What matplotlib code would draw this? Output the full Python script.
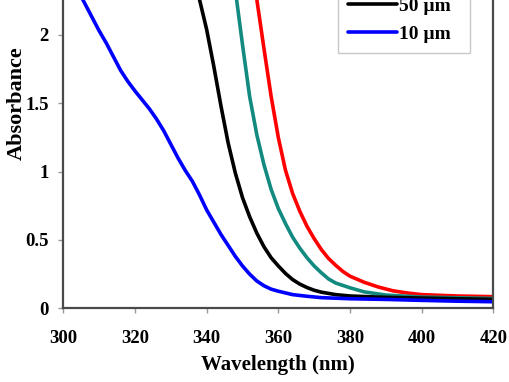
import matplotlib
matplotlib.use("Agg")
import matplotlib.pyplot as plt

plt.rcParams['font.family'] = ['Liberation Serif', 'DejaVu Serif']
plt.rcParams['font.weight'] = 'bold'

wl_red = [352, 354, 356, 358, 360, 362, 364, 366, 368, 370, 372, 374, 376, 378, 380,
          384, 388, 392, 396, 400, 410, 420]
abs_red = [2.60, 2.26, 1.90, 1.55, 1.25, 1.01, 0.84, 0.71, 0.60, 0.51, 0.43, 0.365, 0.315,
           0.27, 0.235, 0.19, 0.155, 0.128, 0.112, 0.10, 0.09, 0.085]

wl_teal = [346, 348, 350, 352, 354, 356, 358, 360, 362, 364, 366, 368, 370, 372, 374,
           376, 380, 384, 390, 400, 410, 420]
abs_teal = [2.70, 2.33, 1.93, 1.55, 1.27, 1.05, 0.87, 0.73, 0.62, 0.52, 0.44, 0.37, 0.31,
            0.26, 0.215, 0.185, 0.15, 0.12, 0.097, 0.082, 0.077, 0.072]

wl_black = [336, 338, 340, 342, 344, 346, 348, 350, 352, 354, 356, 358, 360, 362, 364,
            366, 368, 370, 372, 376, 380, 390, 400, 410, 420]
abs_black = [2.50, 2.26, 2.04, 1.77, 1.48, 1.21, 0.99, 0.81, 0.67, 0.55, 0.45, 0.37, 0.31,
             0.255, 0.21, 0.177, 0.152, 0.132, 0.118, 0.10, 0.09, 0.08, 0.075, 0.07, 0.065]

wl_blue = [300, 302, 304, 306, 308, 310, 312, 314, 316, 318, 320, 322, 324, 326, 328,
           330, 332, 334, 336, 338, 340, 342, 344, 346, 348, 350, 352, 354, 356, 358,
           360, 364, 368, 372, 380, 390, 400, 410, 420]
abs_blue = [2.55, 2.44, 2.33, 2.23, 2.13, 2.03, 1.94, 1.84, 1.74, 1.66, 1.59, 1.525, 1.46,
            1.385, 1.30, 1.20, 1.10, 1.01, 0.93, 0.83, 0.72, 0.63, 0.54, 0.46, 0.38, 0.31,
            0.25, 0.20, 0.165, 0.14, 0.125, 0.10, 0.088, 0.078, 0.070, 0.065, 0.058, 0.052,
            0.048]

labels = ['200 µm', '100 µm', '50 µm', '10 µm']
colors = ['#ff0000', '#128a80', '#000000', '#0000ff']

xticks = [300, 320, 340, 360, 380, 400, 420]
yticks = [0, 0.5, 1, 1.5, 2]
ytick_labels = ['0', '0.5', '1', '1.5', '2']

fig = plt.figure(figsize=(5.1, 3.82), dpi=100)
H = 382.0
W = 510.0
x0, x1 = 63.3, 493.3
y0 = 308.3
ymax = 3.0
ppu = 136.7
ytop = y0 - ymax * ppu
ax = fig.add_axes([x0 / W, 1 - y0 / H, (x1 - x0) / W, (y0 - ytop) / H])

series = [(wl_red, abs_red), (wl_teal, abs_teal), (wl_black, abs_black), (wl_blue, abs_blue)]
for (x, y), c, lab in zip(series, colors, labels):
    ax.plot(x, y, color=c, lw=2.6, label=lab, solid_capstyle='round', solid_joinstyle='round')

ax.set_xlim(300, 420)
ax.set_ylim(0, ymax)
ax.set_xticks(xticks)
ax.set_yticks(yticks)
ax.set_yticklabels(ytick_labels)

for s in ax.spines.values():
    s.set_color('#4a4a4a')
    s.set_linewidth(1.6)

ax.tick_params(axis='both', direction='out', length=3.5, width=1.0, color='#9a9a9a',
               labelsize=13.5)
ax.tick_params(axis='x', pad=12)
ax.tick_params(axis='y', pad=7)

ax.set_xlabel('Wavelength (nm)', fontsize=15, fontweight='bold', labelpad=6)
ax.set_ylabel('Absorbance', fontsize=16, fontweight='bold', labelpad=-1)

lx = (470 - x0) / (x1 - x0)
ly = (y0 - 53) / (y0 - ytop)
leg = ax.legend(loc='lower right', bbox_to_anchor=(lx, ly), borderaxespad=0,
                fontsize=14, handlelength=2.5, handletextpad=0.1, labelspacing=0.55,
                fancybox=False, framealpha=1, edgecolor='#c8c8c8', borderpad=0.5)
leg.get_frame().set_linewidth(1.0)
for t in leg.get_texts():
    t.set_fontweight('bold')

fig.savefig('out.png', dpi=100)
